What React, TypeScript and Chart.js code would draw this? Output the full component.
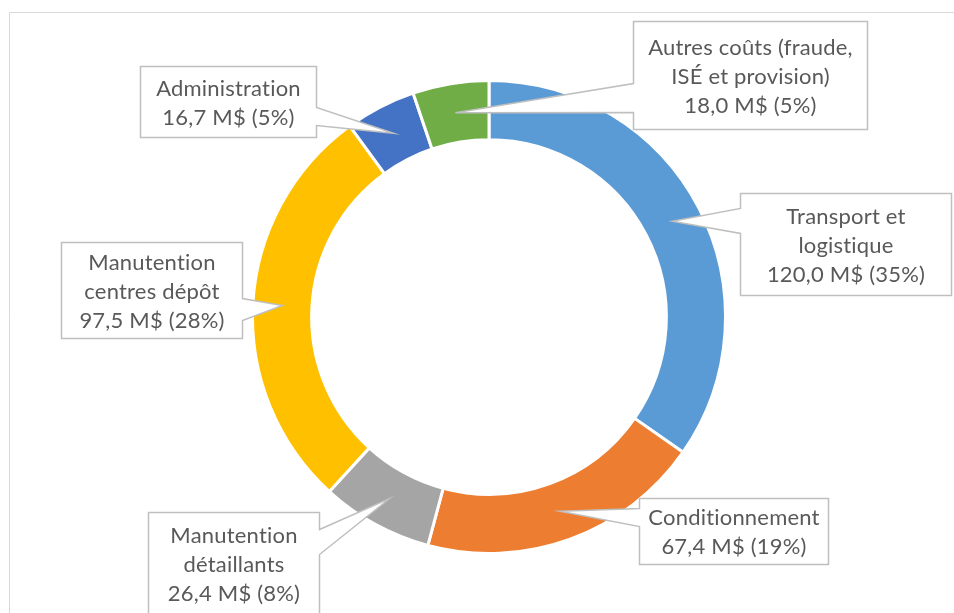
import React, { useEffect, useRef } from "react";
import { Chart, registerables } from "chart.js";

Chart.register(...registerables);

// ---- data ----
const categories: string[][] = [
  ["Transport et", "logistique"],
  ["Conditionnement"],
  ["Manutention", "détaillants"],
  ["Manutention", "centres dépôt"],
  ["Administration"],
  ["Autres coûts (fraude,", "ISÉ et provision)"],
];
const valuesMS: number[] = [120.0, 67.4, 26.4, 97.5, 16.7, 18.0];
const sliceColors: string[] = ["#5B9BD5", "#ED7D31", "#A5A5A5", "#FFC000", "#4472C4", "#70AD47"];

// ---- callout layout (relative to doughnut centre) ----
type Callout = { box: [number, number, number, number]; side: "left" | "right"; base: [number, number] };
const calloutLayout: Callout[] = [
  { box: [251, -124, 211, 102], side: "left", base: [-109, -84] },
  { box: [150, 181, 189, 66], side: "left", base: [191, 209] },
  { box: [-341, 195, 171, 102], side: "right", base: [212, 237] },
  { box: [-428, -75, 181, 96], side: "right", base: [-19, 3] },
  { box: [-349, -251, 176, 71], side: "right", base: [-210, -192] },
  { box: [144, -296, 234, 108], side: "left", base: [-234, -205] },
];

const FONT = "Lato";
const FONT_SIZE = 22;
const LINE_H = 29;
const TEXT_COLOR = "#595959";

const total = valuesMS.reduce((a, b) => a + b, 0);
const fmtValue = (v: number) =>
  v.toFixed(1).replace(".", ",") + " M$ (" + Math.round((v / total) * 100) + "%)";

const framePlugin = {
  id: "frame",
  beforeDraw(chart: any) {
    const ctx = chart.ctx;
    ctx.save();
    ctx.strokeStyle = "#D9D9D9";
    ctx.lineWidth = 1;
    ctx.beginPath();
    ctx.moveTo(9.5, 640);
    ctx.lineTo(9.5, 12.5);
    ctx.lineTo(960, 12.5);
    ctx.stroke();
    ctx.restore();
  },
};

const calloutPlugin = {
  id: "callouts",
  afterDraw(chart: any) {
    const ctx = chart.ctx;
    const meta = chart.getDatasetMeta(0);
    ctx.save();
    meta.data.forEach((arc: any, i: number) => {
      const lay = calloutLayout[i];
      if (!lay) return;
      const cx = arc.x;
      const cy = arc.y;
      const tip = arc.getCenterPoint();
      const [bx, by, bw, bh] = lay.box;
      const x0 = Math.round(cx + bx) + 0.5;
      const y0 = Math.round(cy + by) + 0.5;
      const x1 = x0 + bw;
      const y1 = y0 + bh;
      const b0 = Math.round(cy + lay.base[0]) + 0.5;
      const b1 = Math.round(cy + lay.base[1]) + 0.5;
      ctx.beginPath();
      ctx.moveTo(x0, y0);
      ctx.lineTo(x1, y0);
      if (lay.side === "right") {
        ctx.lineTo(x1, b0);
        ctx.lineTo(tip.x, tip.y);
        ctx.lineTo(x1, b1);
      }
      ctx.lineTo(x1, y1);
      ctx.lineTo(x0, y1);
      if (lay.side === "left") {
        ctx.lineTo(x0, b1);
        ctx.lineTo(tip.x, tip.y);
        ctx.lineTo(x0, b0);
      }
      ctx.closePath();
      ctx.fillStyle = "#FFFFFF";
      ctx.fill();
      ctx.strokeStyle = "#BFBFBF";
      ctx.lineWidth = 1.5;
      ctx.lineJoin = "miter";
      ctx.stroke();

      const lines = [...categories[i], fmtValue(valuesMS[i])];
      ctx.fillStyle = TEXT_COLOR;
      ctx.font = `${FONT_SIZE}px ${FONT}`;
      try {
        (ctx as any).letterSpacing = "0.2px";
      } catch (e) {}
      ctx.textAlign = "center";
      ctx.textBaseline = "middle";
      const midY = (y0 + y1) / 2;
      const startY = midY - ((lines.length - 1) * LINE_H) / 2;
      lines.forEach((t, k) => ctx.fillText(t, (x0 + x1) / 2, startY + k * LINE_H + 1));
    });
    ctx.restore();
  },
};

export default function App() {
  const ref = useRef<HTMLCanvasElement | null>(null);
  useEffect(() => {
    document.body.style.margin = "0";
    const chart = new Chart(ref.current as HTMLCanvasElement, {
      type: "doughnut",
      data: {
        labels: categories,
        datasets: [
          {
            data: valuesMS,
            backgroundColor: sliceColors,
            borderColor: "#FFFFFF",
            borderWidth: 3,
          },
        ],
      },
      options: {
        animation: false,
        responsive: false,
        cutout: "75%",
        layout: { padding: { top: 79, bottom: 58, left: 251, right: 227 } },
        plugins: { legend: { display: false }, tooltip: { enabled: false } },
      },
      plugins: [framePlugin, calloutPlugin],
    });
    return () => chart.destroy();
  }, []);
  return (
    <div style={{ position: "fixed", left: 0, top: 0, width: 954, height: 613, background: "#fff" }}>
      <canvas ref={ref} width={954} height={613} style={{ width: 954, height: 613, display: "block" }} />
    </div>
  );
}
